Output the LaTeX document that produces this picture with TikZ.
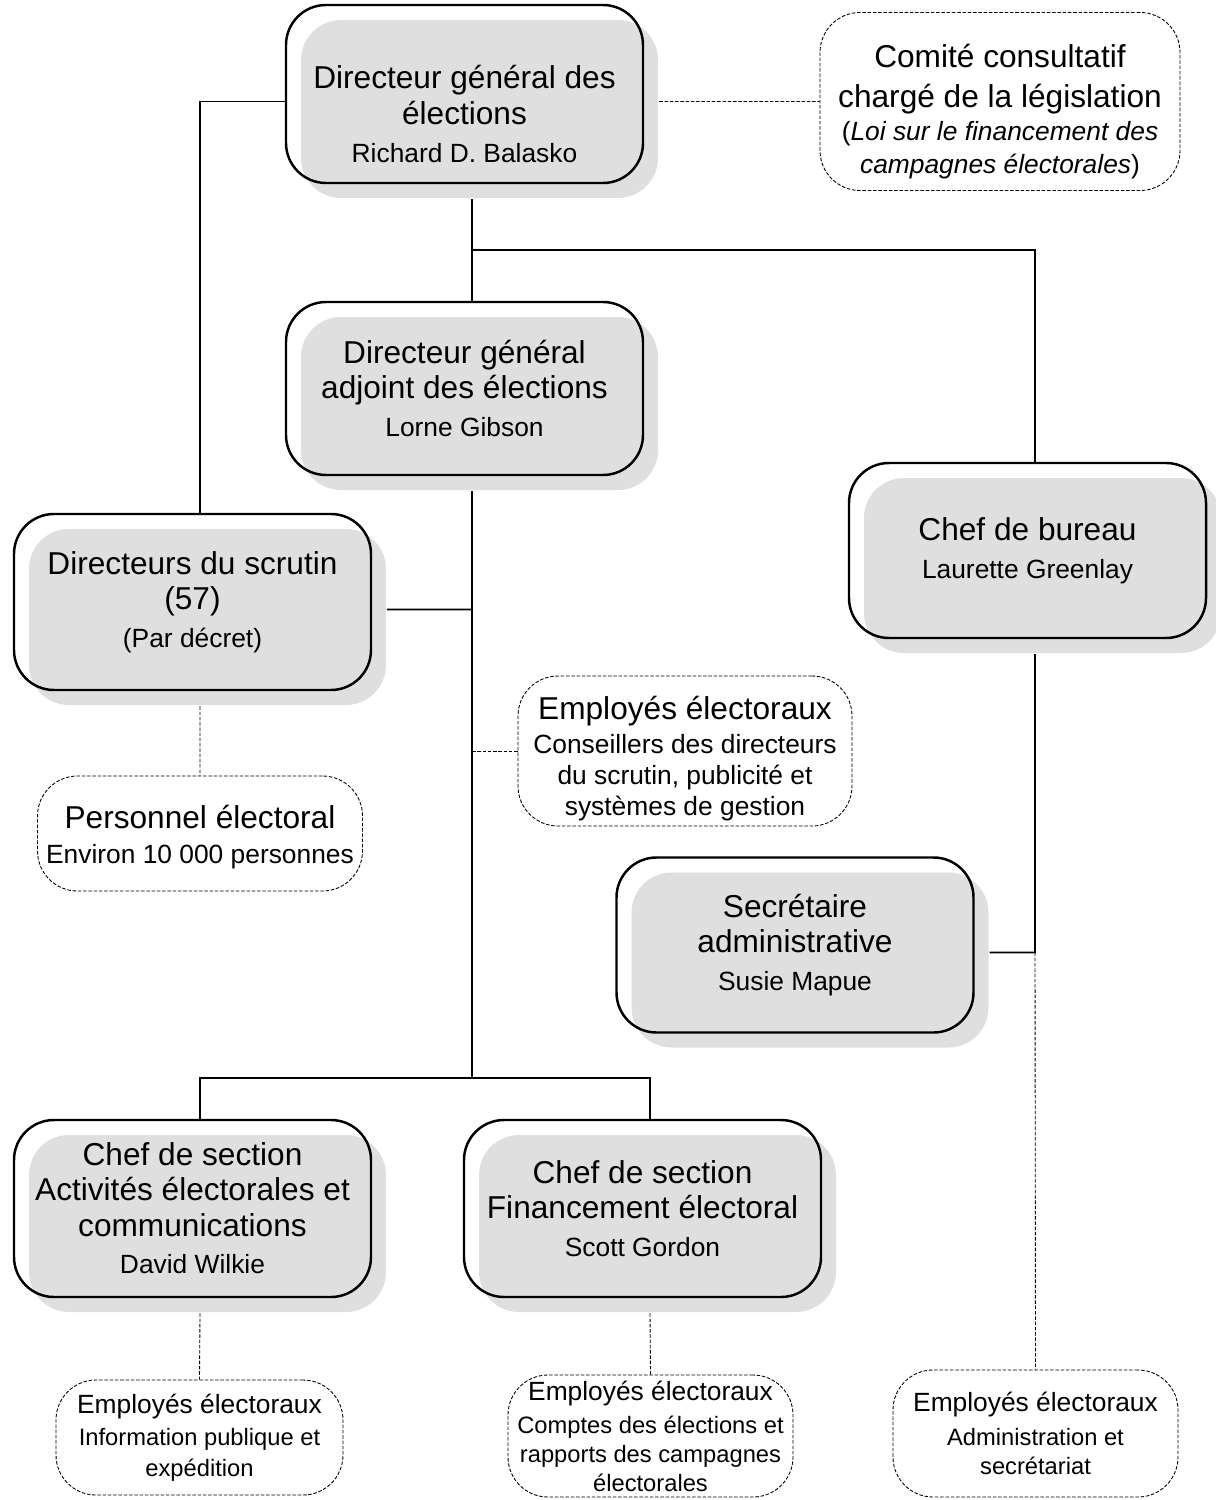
\documentclass[tikz,border=0pt]{standalone}
\usepackage{fontspec}
\setmainfont{Liberation Sans}
\usetikzlibrary{shadows}

\newcommand{\txtgrand}{\fontsize{18}{20}\selectfont}
\newcommand{\txtmoyen}{\fontsize{15}{18}\selectfont}
\newcommand{\txtpetit}{\fontsize{13.5}{17}\selectfont}

\tikzset{
  poste/.style={draw, line width=1.4pt, rounded corners=0.8cm, align=center, inner sep=0pt,
    font=\txtgrand, minimum width=7.14cm, minimum height=3.52cm,
    drop shadow={shadow xshift=0.3cm, shadow yshift=-0.3cm, fill=gray!25, opacity=1}},
  employes/.style={draw, line width=0.5pt, dash pattern=on 2pt off 1pt, rounded corners=0.8cm,
    align=center, inner sep=0pt, font=\txtgrand},
  employes bas/.style={employes, font=\txtmoyen},
  lien/.style={line width=1.1pt},
  pointille/.style={line width=0.5pt, dash pattern=on 2pt off 1pt},
}

\begin{document}
\begin{tikzpicture}
    \useasboundingbox (0,0) rectangle (24.3,-30);

    % Postes
    \node[poste, minimum height=3.56cm] (dge) at (9.29,-1.88)
        {\rule{0pt}{36pt}Directeur général des\\ élections\\[1.6pt] \txtmoyen Richard D. Balasko};
    \node[poste, minimum height=3.46cm] (dga) at (9.29,-7.77)
        {Directeur général\\ adjoint des élections\\[1.6pt] \txtmoyen Lorne Gibson};
    \node[poste] (dsc) at (3.85,-12.04)
        {Directeurs du scrutin\\ (57)\\[1.6pt] \txtmoyen (Par décret)};
    \node[poste, minimum height=3.5cm] (cdb) at (20.55,-11.01)
        {Chef de bureau\\[1.6pt] \txtmoyen Laurette Greenlay};
    \node[poste, minimum height=3.5cm] (sec) at (15.9,-18.9)
        {Secrétaire\\ administrative\\[1.6pt] \txtmoyen Susie Mapue};
    \node[poste, minimum height=3.54cm] (csa) at (3.85,-24.17)
        {Chef de section\\ Activités électorales et\\ communications\\[1.6pt] \txtmoyen David Wilkie};
    \node[poste, minimum height=3.54cm] (csf) at (12.85,-24.17)
        {Chef de section\\ Financement électoral\\[1.6pt] \txtmoyen Scott Gordon};

    % Employes
    \node[employes, minimum width=7.2cm, minimum height=3.56cm] (comite) at (20.0,-2.03)
        {\rule{0pt}{25pt}Comité consultatif\\[2.5pt] chargé de la législation\\[-1pt] \txtmoyen (\textit{Loi sur le financement des}\\[-1.2pt] \txtmoyen \textit{campagnes électorales})};
    \node[employes, minimum width=6.68cm, minimum height=3.0cm] (empcons) at (13.7,-15.02)
        {\rule{0pt}{22pt}Employés électoraux\\[-0.5pt] \txtmoyen Conseillers des directeurs\\[-2.4pt] \txtmoyen du scrutin, publicité et\\[-2.4pt] \txtmoyen systèmes de gestion};
    \node[employes, minimum width=6.5cm, minimum height=2.3cm] (perso) at (4.0,-16.67)
        {\rule{0pt}{17pt}Personnel électoral\\[0pt] \txtmoyen Environ 10 000 personnes};
    \node[employes bas, minimum width=5.74cm, minimum height=2.3cm] (empinfo) at (3.99,-28.75)
        {Employés électoraux\\[0.5pt] \txtpetit Information publique et\\[-0.5pt] \txtpetit expédition};
    \node[employes bas, minimum width=5.7cm, minimum height=2.44cm] (empcomptes) at (13.01,-28.72)
        {Employés électoraux\\[1pt] \txtpetit Comptes des élections et\\[-1.5pt] \txtpetit rapports des campagnes\\[-1.8pt] \txtpetit électorales};
    \node[employes bas, minimum width=5.7cm, minimum height=2.54cm] (empadmin) at (20.71,-28.67)
        {Employés électoraux\\[1pt] \txtpetit Administration et\\[-1.5pt] \txtpetit secrétariat};

    % Jonctions
    \coordinate (j1) at (9.44,-5.0);
    \coordinate (j2) at (9.44,-21.56);
    \coordinate (j3) at (9.44,-12.19);
    \coordinate (j4) at (9.44,-15.02);
    \coordinate (j5) at (20.7,-19.05);

    % Liens
    \draw[lien] ([yshift=-1.5mm]dge.west) -| ([xshift=1.5mm]dsc.north);
    \draw[lien] ([shift={(1.5mm,-3mm)}]dge.south) -- ([xshift=1.5mm]dga.north);
    \draw[lien] (j1) -| ([xshift=1.5mm]cdb.north);
    \draw[lien] ([shift={(1.5mm,-3mm)}]dga.south) -- (j2);
    \draw[lien] ([xshift=1.5mm]csa.north) |- (j2) -| ([xshift=1.5mm]csf.north);
    \draw[lien] ([shift={(3mm,-1.5mm)}]dsc.east) -- (j3);
    \draw[lien] ([shift={(1.5mm,-3mm)}]cdb.south) -- (j5) -- ([shift={(3mm,-1.5mm)}]sec.east);

    \draw[pointille] ([shift={(3mm,-1.5mm)}]dge.east) -- (comite.west);
    \draw[pointille] (j4) -- (empcons.west);
    \draw[pointille] ([shift={(1.5mm,-3mm)}]dsc.south) -- (perso.north);
    \draw[pointille] (j5) -- (empadmin.north);
    \draw[pointille] ([shift={(1.5mm,-3mm)}]csa.south) -- (empinfo.north);
    \draw[pointille] ([shift={(1.5mm,-3mm)}]csf.south) -- (empcomptes.north);

\end{tikzpicture}
\end{document}
